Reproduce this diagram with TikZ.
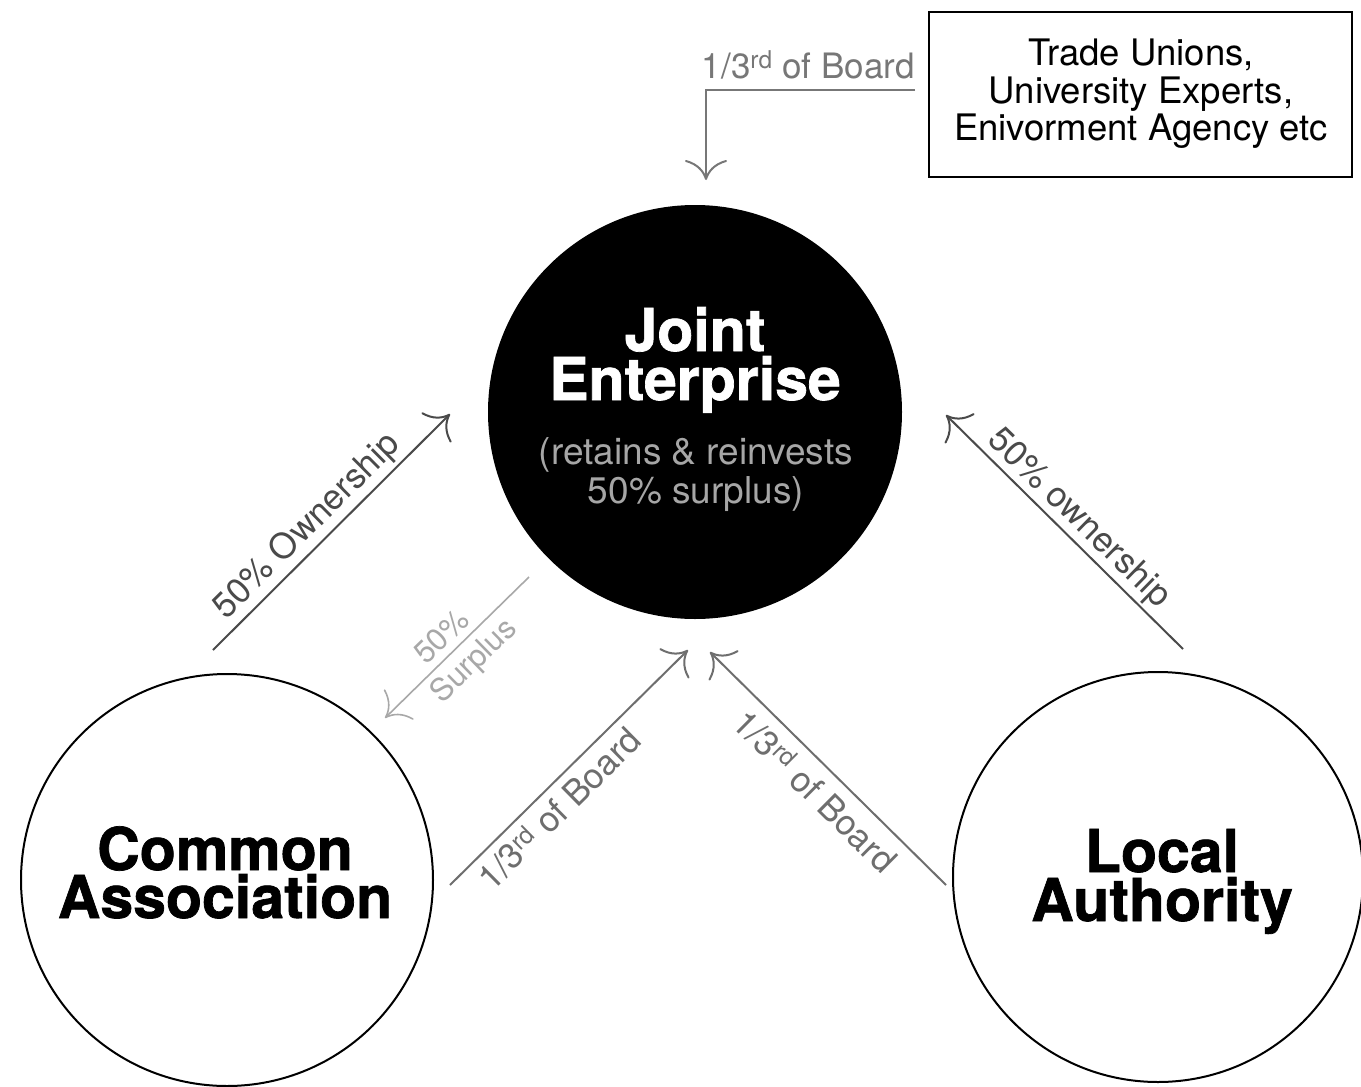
\documentclass[tikz,border=0pt]{standalone}
\usepackage{fontspec}
\setmainfont{TeX Gyre Heros}
\newfontface\titlefont[FakeBold=1.2]{texgyreheros-bold.otf}
\usetikzlibrary{arrows.meta}
\definecolor{owngray}{HTML}{4A4A4A}
\definecolor{boardgray}{HTML}{6E6E6E}
\definecolor{topgray}{HTML}{777777}
\definecolor{surpgray}{HTML}{A8A8A8}
\definecolor{subgray}{HTML}{A6A6A6}
\begin{document}
\begin{tikzpicture}[x=1pt,y=-1pt,
  conn/.style={line width=2pt, -{Computer Modern Rightarrow[length=20pt,width=42pt]}},
  bigcircle/.style={circle, draw=black, line width=2pt, inner sep=0pt},
  title/.style={font=\fontsize{59}{59}\titlefont, anchor=base, inner sep=0pt},
  subt/.style={font=\fontsize{37}{37}\selectfont, text=subgray, anchor=base, inner sep=0pt},
  boxtext/.style={font=\fontsize{36.5}{36.5}\selectfont, anchor=base, inner sep=0pt},
  lbl/.style={font=\fontsize{35}{35}\selectfont, anchor=base, inner sep=0pt},
  slbl/.style={font=\fontsize{31}{31}\selectfont, text=surpgray, anchor=base, inner sep=0pt}]
\useasboundingbox (0,0) rectangle (1361,1087);
\fill[white] (0,0) rectangle (1361,1087);
\clip (0,0) rectangle (1361,1087);

% circles and box
\node[circle, fill=black, minimum size=414pt, inner sep=0pt] (je) at (695,412) {};
\node[bigcircle, minimum size=412pt] (ca) at (227,880) {};
\node[bigcircle, minimum size=410pt] (la) at (1158,877) {};
\node[draw=black, line width=2pt, minimum width=423pt, minimum height=165pt, inner sep=0pt] (box) at (1140.5,94.5) {};

% titles
\node[title, text=white] (je1) at (695,351) {Joint};
\node[title, text=white] (je2) at (695,400) {Enterprise};
\node[subt] (je3) at (696,464) {(retains \& reinvests};
\node[subt] (je4) at (696,503) {50\% surplus)};
\node[title] (ca1) at (225,870) {Common};
\node[title] (ca2) at (225,918) {Association};
\node[title] (la1) at (1162,872) {Local};
\node[title] (la2) at (1162,921) {Authority};

% box text
\node[boxtext] (bx1) at (1141,65.7) {Trade Unions,};
\node[boxtext] (bx2) at (1141,103.3) {University Experts,};
\node[boxtext] (bx3) at (1141,140.7) {Enivorment Agency etc};

% connector end points
\coordinate (t0) at (915,90);
\coordinate (t1) at (706,90);
\coordinate (t2) at (706,180);
\coordinate (o1a) at (213,650);
\coordinate (o1b) at (450,414);
\coordinate (s1a) at (529,577);
\coordinate (s1b) at (385,718);
\coordinate (b1a) at (450,885);
\coordinate (b1b) at (688,650);
\coordinate (b2a) at (946,885);
\coordinate (b2b) at (710,652);
\coordinate (o2a) at (1183,649);
\coordinate (o2b) at (946,415);

% connectors
\draw[conn, topgray] (t0) -- (t1) -- (t2);
\draw[conn, owngray] (o1a) -- (o1b);
\draw[conn, surpgray, line width=1.6pt] (s1a) -- (s1b);
\draw[conn, boardgray] (b1a) -- (b1b);
\draw[conn, boardgray] (b2a) -- (b2b);
\draw[conn, owngray] (o2a) -- (o2b);

% labels
\node[lbl, anchor=base east, text=topgray] (l0) at (915,78) {1/3\textsuperscript{rd} of Board};
\node[lbl, text=owngray, rotate=44.8] (l1) at (313.9,533.2) {50\% Ownership};
\node[slbl, rotate=44.4] (l2a) at (448.7,643.8) {50\%};
\node[slbl, rotate=44.4] (l2b) at (480.5,667.5) {Surplus};
\node[lbl, text=boardgray, rotate=44.6] (l3) at (568,817.7) {1/3\textsuperscript{rd} of Board};
\node[lbl, text=boardgray, rotate=-44.8] (l4) at (806.3,800.2) {1/3\textsuperscript{rd} of Board};
\node[lbl, text=owngray, rotate=-44.3] (l5) at (1072.4,525.4) {50\% ownership};
\end{tikzpicture}
\end{document}
